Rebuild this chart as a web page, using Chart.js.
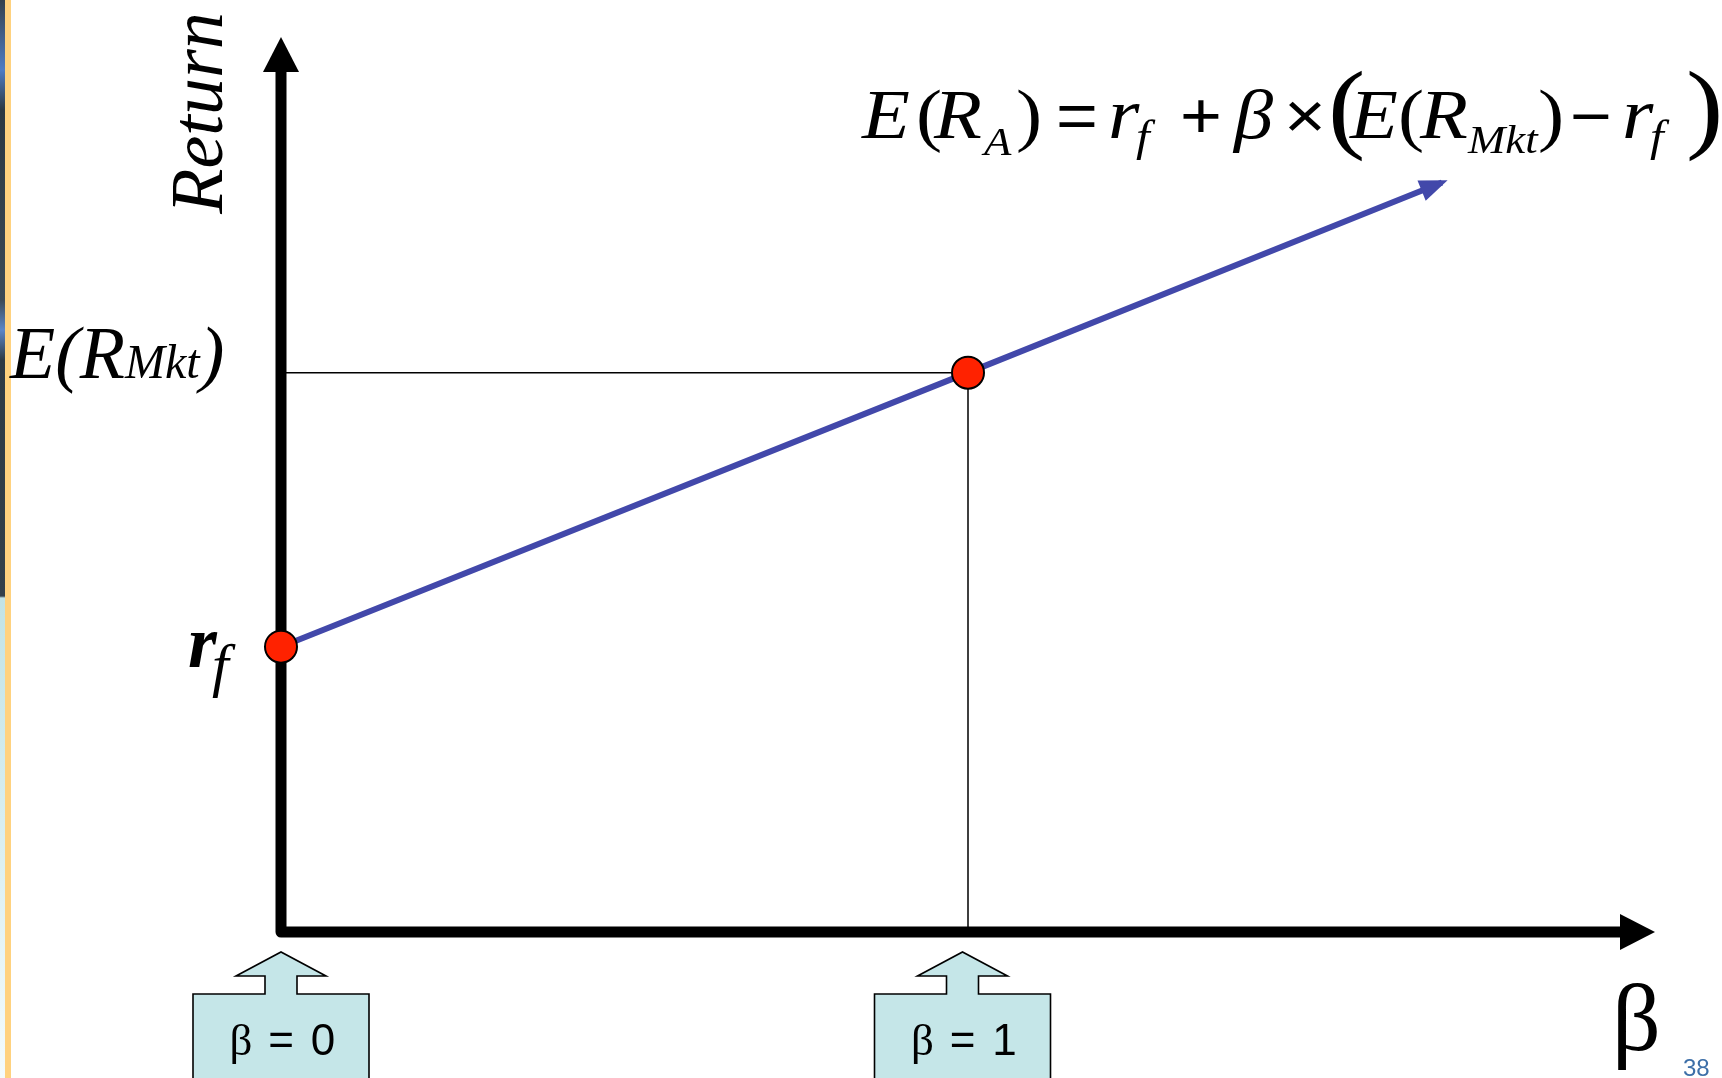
<!DOCTYPE html>
<html>
<head>
<meta charset="utf-8">
<script src="https://cdn.jsdelivr.net/npm/chart.js@4.4.0/dist/chart.umd.min.js"></script>
<style>
  html, body { margin: 0; padding: 0; background: #fff; }
  #wrap { position: relative; width: 1722px; height: 1078px; overflow: hidden; }
  #photo { position: absolute; left: 0; top: 0; width: 5px; height: 1078px;
    background: linear-gradient(to bottom, #34414c 0px, #4f7cc4 70px, #2c3842 110px, #3b4a56 300px, #5b86c8 330px, #2e3a44 360px, #33404a 596px, #c2e3e6 598px, #d6edef 800px, #f4fbfc 1078px); }
  #stripe { position: absolute; left: 5px; top: 0; width: 6px; height: 1078px; background: #ffd27f; }
  #chartBox { position: absolute; left: 0; top: 0; width: 1722px; height: 1078px; }
</style>
</head>
<body>
<div id="wrap">
  <div id="photo"></div>
  <div id="stripe"></div>
  <div id="chartBox"><canvas id="sml"></canvas></div>
</div>
<script>
// security market line
const smlBeta = [0, 1, 1.69];
const smlReturn = [5.1, 10, 13.4];
const pointBeta = [0, 1];
const pointReturn = [5.1, 10];
const guideBeta = [0, 1, 1];
const guideReturn = [10, 10, 0];
const calloutBeta = [0, 0.992];
const calloutDigits = ['0', '1'];
const xMax = 2;
const yMax = 16;

const SERIF = '"Liberation Serif", "Times New Roman", serif';
const SANS = '"Liberation Sans", Arial, sans-serif';
const BLUE = '#4248aa';

const toXY = (xs, ys) => xs.map((x, i) => ({ x: x, y: ys[i] }));

// equation glyphs: text, size, style (1 italic serif, 0 serif, 2 sans), left x, baseline y
const eqGlyphs = [
  ['E', 70, 1, 862, 138], ['(', 70, 0, 916, 138], ['R', 70, 1, 934, 138],
  ['A', 40, 1, 984, 155], [')', 70, 0, 1016, 138], ['=', 64, 2, 1056, 138],
  ['r', 72, 1, 1108, 138], ['f', 44, 1, 1136, 151], ['+', 64, 2, 1180, 138],
  ['β', 70, 1, 1234, 138], ['×', 64, 2, 1284, 138], ['(', 100, 0, 1328, 140],
  ['E', 70, 1, 1350, 138], ['(', 70, 0, 1398, 138], ['R', 70, 1, 1420, 138],
  ['Mkt', 40, 1, 1468, 153], [')', 70, 0, 1538, 138], ['−', 64, 2, 1570, 138],
  ['r', 72, 1, 1622, 138], ['f', 44, 1, 1650, 151], [')', 100, 0, 1686, 140]
];

function fnt(size, style, family) {
  return (style ? 'italic ' : '') + size + 'px ' + family;
}

const decorations = {
  id: 'decorations',
  beforeDatasetsDraw(chart) {
    const ctx = chart.ctx;
    const x = chart.scales.x, y = chart.scales.y;
    const x0 = x.getPixelForValue(0), y0 = y.getPixelForValue(0);
    const xEnd = x.getPixelForValue(xMax), yEnd = y.getPixelForValue(yMax);
    ctx.save();
    ctx.strokeStyle = '#000';
    ctx.fillStyle = '#000';
    ctx.lineWidth = 11;
    ctx.lineJoin = 'round';
    ctx.beginPath();
    ctx.moveTo(x0, yEnd + 34);
    ctx.lineTo(x0, y0);
    ctx.lineTo(xEnd - 34, y0);
    ctx.stroke();
    // arrow heads
    ctx.beginPath();
    ctx.moveTo(x0 - 18, yEnd + 35);
    ctx.lineTo(x0 + 18, yEnd + 35);
    ctx.lineTo(x0, yEnd);
    ctx.closePath();
    ctx.fill();
    ctx.beginPath();
    ctx.moveTo(xEnd - 35, y0 - 18);
    ctx.lineTo(xEnd - 35, y0 + 18);
    ctx.lineTo(xEnd, y0);
    ctx.closePath();
    ctx.fill();

    // callouts under the x axis
    calloutBeta.forEach((b, i) => {
      const cx = x.getPixelForValue(b);
      const top = y0 + 62;
      ctx.beginPath();
      ctx.moveTo(cx - 88, 1100);
      ctx.lineTo(cx - 88, top);
      ctx.lineTo(cx - 16, top);
      ctx.lineTo(cx - 16, top - 18);
      ctx.lineTo(cx - 45, top - 18);
      ctx.lineTo(cx, top - 42);
      ctx.lineTo(cx + 45, top - 18);
      ctx.lineTo(cx + 16, top - 18);
      ctx.lineTo(cx + 16, top);
      ctx.lineTo(cx + 88, top);
      ctx.lineTo(cx + 88, 1100);
      ctx.closePath();
      ctx.fillStyle = '#c5e6e8';
      ctx.fill();
      ctx.lineWidth = 1.6;
      ctx.lineJoin = 'miter';
      ctx.strokeStyle = '#000';
      ctx.stroke();
      ctx.fillStyle = '#000';
      ctx.textAlign = 'center';
      ctx.textBaseline = 'alphabetic';
      const base = top + 61;
      ctx.font = fnt(45, 0, SERIF);
      ctx.fillText('β', cx - 40, base);
      ctx.font = fnt(44, 0, SANS);
      ctx.fillText('=', cx, base);
      ctx.fillText(calloutDigits[i], cx + 42, base);
    });
    ctx.restore();
  },
  afterDatasetsDraw(chart) {
    const ctx = chart.ctx;
    const x = chart.scales.x, y = chart.scales.y;
    const n = smlBeta.length;
    const px = x.getPixelForValue(smlBeta[n - 1]), py = y.getPixelForValue(smlReturn[n - 1]);
    const qx = x.getPixelForValue(smlBeta[n - 2]), qy = y.getPixelForValue(smlReturn[n - 2]);
    const ang = Math.atan2(py - qy, px - qx);
    ctx.save();
    // arrow head on the SML
    ctx.translate(px, py);
    ctx.rotate(ang);
    ctx.fillStyle = BLUE;
    ctx.beginPath();
    ctx.moveTo(6, 0);
    ctx.lineTo(-22, -11);
    ctx.lineTo(-22, 11);
    ctx.closePath();
    ctx.fill();
    ctx.restore();

    ctx.save();
    ctx.fillStyle = '#000';
    ctx.textAlign = 'left';
    ctx.textBaseline = 'alphabetic';
    // equation
    eqGlyphs.forEach(g => {
      ctx.save();
      ctx.translate(g[3], g[4]);
      ctx.scale(1.12, 1);
      ctx.font = g[2] === 2 ? fnt(g[1], 0, SANS) : fnt(g[1], g[2], SERIF);
      ctx.fillText(g[0], 0, 0);
      ctx.restore();
    });

    // y axis title
    ctx.save();
    ctx.translate(222, 113);
    ctx.rotate(-Math.PI / 2);
    ctx.textAlign = 'center';
    ctx.font = fnt(74, 1, SERIF);
    ctx.fillText('Return', 0, 0);
    ctx.restore();

    // E(RMkt) label
    const eY = y.getPixelForValue(pointReturn[1]) + 5;
    let lx = 10;
    ctx.font = fnt(74, 1, SERIF);
    ctx.fillText('E(R', lx, eY);
    lx += ctx.measureText('E(R').width;
    ctx.font = fnt(48, 1, SERIF);
    ctx.fillText('Mkt', lx, eY);
    lx += ctx.measureText('Mkt').width;
    ctx.font = fnt(74, 1, SERIF);
    ctx.fillText(')', lx, eY);

    // rf label
    const rY = y.getPixelForValue(pointReturn[0]) + 20;
    ctx.font = 'bold ' + fnt(74, 1, SERIF);
    ctx.fillText('r', 188, rY);
    ctx.font = fnt(60, 1, SERIF);
    ctx.fillText('f', 212, rY + 18);

    // beta axis title
    ctx.font = fnt(96, 0, SERIF);
    ctx.fillText('β', 1612, 1050);

    // slide number
    ctx.font = fnt(24, 0, SANS);
    ctx.fillStyle = '#3d6fa8';
    ctx.fillText('38', 1683, 1076);
    ctx.restore();
  }
};

new Chart(document.getElementById('sml'), {
  type: 'scatter',
  data: {
    datasets: [
      {
        data: toXY(pointBeta, pointReturn),
        pointRadius: 16,
        pointBackgroundColor: '#ff2200',
        pointBorderColor: '#000',
        pointBorderWidth: 2,
        showLine: false,
        clip: false
      },
      {
        data: toXY(smlBeta, smlReturn),
        showLine: true,
        borderColor: BLUE,
        borderWidth: 6,
        pointRadius: 0,
        clip: false
      },
      {
        data: toXY(guideBeta, guideReturn),
        showLine: true,
        borderColor: '#000',
        borderWidth: 1.5,
        pointRadius: 0,
        clip: false
      }
    ]
  },
  options: {
    responsive: true,
    maintainAspectRatio: false,
    animation: false,
    layout: { padding: { left: 281, right: 67, top: 37, bottom: 146 } },
    plugins: { legend: { display: false }, tooltip: { enabled: false } },
    scales: {
      x: { type: 'linear', min: 0, max: xMax, display: false },
      y: { type: 'linear', min: 0, max: yMax, display: false }
    }
  },
  plugins: [decorations]
});
</script>
</body>
</html>
